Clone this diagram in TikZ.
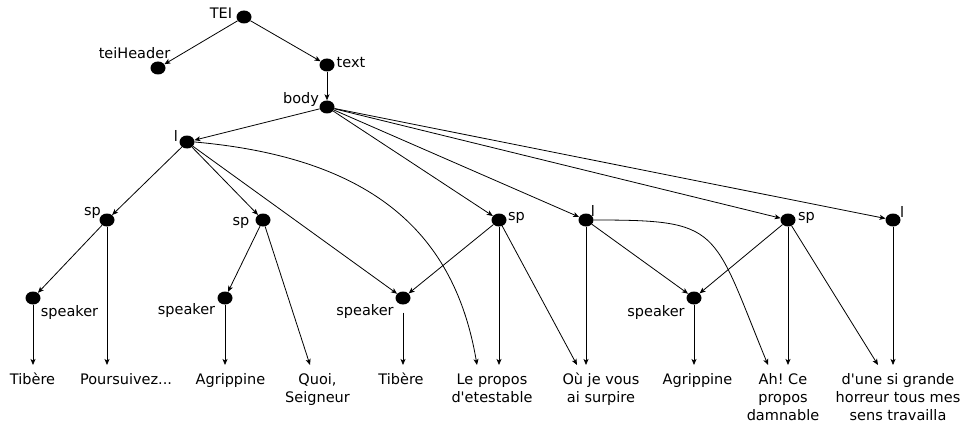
\documentclass[tikz,border=0pt]{standalone}
\usepackage{fontspec}
\setmainfont{DejaVu Sans}
\usetikzlibrary{shapes.geometric,arrows.meta,calc}
\newcommand\leafstrut{\rule{0pt}{14pt}}
\frenchspacing
\begin{document}
\begin{tikzpicture}[x=1pt,y=-1pt,
  dot/.style={ellipse,fill=black,inner sep=0pt,minimum width=15pt,minimum height=13pt},
  lbl/.style={inner sep=0pt,anchor=base,font=\fontsize{14.5}{18}\selectfont},
  leaf/.style={inner xsep=0pt,inner ysep=5pt,anchor=north,align=center,font=\fontsize{14.5}{18}\selectfont},
  arr/.style={-{Stealth[length=6pt,width=5pt,inset=1.5pt]},line width=0.8pt}
]
\useasboundingbox (0,0) rectangle (960,425);

% element nodes
\node[dot] (tei)  at (244,17)  {};
\node[dot] (hdr)  at (158,68)  {};
\node[dot] (txt)  at (327,65)  {};
\node[dot] (body) at (327,107) {};
\node[dot] (la)   at (187,142) {};
\node[dot] (spa)  at (107,220) {};
\node[dot] (spb)  at (263,220) {};
\node[dot] (spc)  at (499,220) {};
\node[dot] (lb)   at (586,220) {};
\node[dot] (spd)  at (788,220) {};
\node[dot] (lc)   at (893,220) {};
\node[dot] (ska)  at (33,298)  {};
\node[dot] (skb)  at (225,298) {};
\node[dot] (skc)  at (403,298) {};
\node[dot] (skd)  at (694,298) {};

% element names
\node[lbl] (tTei)  at (221,19)    {TEI};
\node[lbl] (tHdr)  at (134.5,59)  {teiHeader};
\node[lbl] (tTxt)  at (351,68)    {text};
\node[lbl] (tBody) at (301,103)   {body};
\node[lbl] (tLa)   at (176,141)   {l};
\node[lbl] (tSpa)  at (92.5,215)  {sp};
\node[lbl] (tSpb)  at (241,225)   {sp};
\node[lbl] (tSpc)  at (516.5,220) {sp};
\node[lbl] (tLb)   at (593,216)   {l};
\node[lbl] (tSpd)  at (806.5,220) {sp};
\node[lbl] (tLc)   at (902,217)   {l};
\node[lbl] (tSka)  at (69.5,316)  {speaker};
\node[lbl] (tSkb)  at (186.5,314) {speaker};
\node[lbl] (tSkc)  at (365,315)   {speaker};
\node[lbl] (tSkd)  at (656,316)   {speaker};

% text leaves
\node[leaf] (lf1)  at (32.5,365) {\leafstrut Tibère};
\node[leaf] (lf2)  at (126,365)  {\leafstrut Poursuivez...};
\node[leaf] (lf3)  at (230.5,365){\leafstrut Agrippine};
\node[leaf] (lf4)  at (317.5,365){\leafstrut Quoi,\\Seigneur};
\node[leaf] (lf5)  at (401,365)  {\leafstrut Tibère};
\node[leaf] (lf6)  at (492,365)  {\leafstrut Le propos\\d\textquotesingle etestable};
\node[leaf] (lf7)  at (601,365)  {\leafstrut Où je vous\\ai surpire};
\node[leaf] (lf8)  at (697.5,365){\leafstrut Agrippine};
\node[leaf] (lf9)  at (783,365)  {\leafstrut Ah! Ce\\propos\\damnable};
\node[leaf] (lf10) at (898,365)  {\leafstrut d\textquotesingle une si grande\\horreur tous mes\\sens travailla};

% edges
\draw[arr] (tei) -- (hdr);
\draw[arr] (tei) -- (txt);
\draw[arr] (txt) -- (body);
\draw[arr] (body) -- (la);
\draw[arr] (body) -- (spc);
\draw[arr] (body) -- (lb);
\draw[arr] (body) -- (spd);
\draw[arr] (body) -- (lc);

\draw[arr] (la) -- (spa);
\draw[arr] (la) -- (spb);
\draw[arr] (la) -- (skc);
\draw[arr] (la.east) .. controls (375,158) and (455,235) .. ($(lf6.north)+(-15,0)$);

\draw[arr] (spa) -- (ska);
\draw[arr] (spa) -- (spa |- lf2.north);
\draw[arr] (spb) -- (skb);
\draw[arr] (spb) -- ($(lf4.north)+(-7.5,0)$);

\draw[arr] (spc) -- (skc);
\draw[arr] (spc) -- (spc |- lf6.north);
\draw[arr] (spc) -- ($(lf7.north)+(-24,0)$);

\draw[arr] (lb) -- (lb |- lf7.north);
\draw[arr] (lb) -- (skd);
\draw[arr] (lb.east) .. controls (722,220) and (711.5,227) .. ($(lf9.north)+(-15,0)$);

\draw[arr] (spd) -- (skd);
\draw[arr] (spd) -- (spd |- lf9.north);
\draw[arr] (spd) -- ($(lf10.north)+(-20,0)$);
\draw[arr] (lc) -- (lc |- lf10.north);

\draw[arr] (ska) -- (ska |- lf1.north);
\draw[arr] (skb) -- (skb |- lf3.north);
\draw[arr, shorten <=8pt] (skc) -- (skc |- lf5.north);
\draw[arr] (skd) -- (skd |- lf8.north);
\end{tikzpicture}
\end{document}
